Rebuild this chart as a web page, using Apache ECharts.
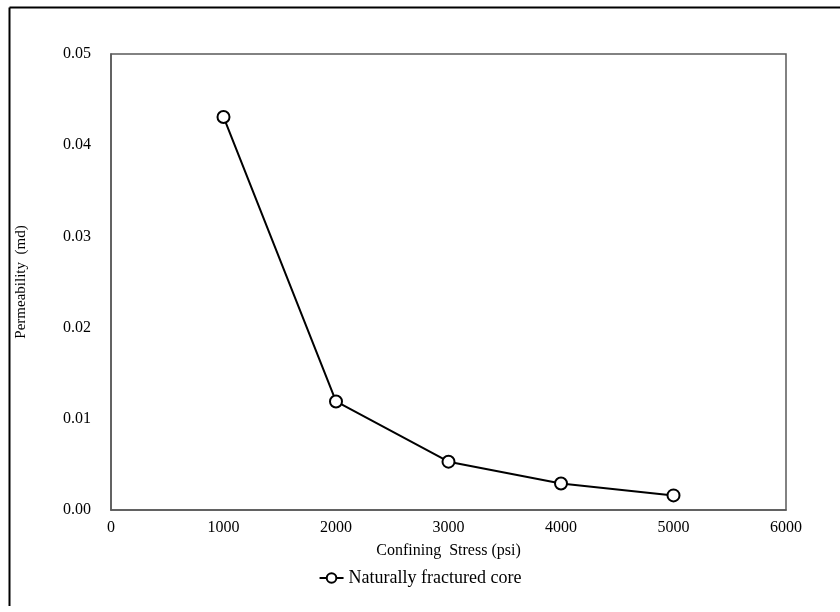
<!DOCTYPE html>
<html><head><meta charset="utf-8">
<script src="https://cdn.jsdelivr.net/npm/echarts@6/dist/echarts.min.js"></script>
<style>html,body{margin:0;padding:0;background:#fff}#c{width:840px;height:612px}</style>
</head><body><div id="c"></div>
<script>
const stress = [1000, 2000, 3000, 4000, 5000];
const permeability = [0.0431, 0.0119, 0.0053, 0.0029, 0.0016];
const seriesName = 'Naturally fractured core';
const xName = 'Confining  Stress (psi)';
const yName = 'Permeability  (md)';
const font = 'Liberation Serif';
const chart = echarts.init(document.getElementById('c'));
chart.setOption({
  animation: false,
  graphic: [
    {type: 'line', shape: {x1: 9.5, y1: 7.5, x2: 840, y2: 7.5}, style: {stroke: '#000', lineWidth: 2}},
    {type: 'line', shape: {x1: 9.5, y1: 7.5, x2: 9.5, y2: 606}, style: {stroke: '#000', lineWidth: 2}}
  ],
  grid: {left: 111, right: 54, top: 54, bottom: 102, show: true, borderColor: '#595959', borderWidth: 1.5, backgroundColor: 'transparent'},
  legend: {
    bottom: 20, left: 'center', itemWidth: 24, itemHeight: 12, itemGap: 2,
    textStyle: {fontFamily: font, fontSize: 18, color: '#000'},
    data: [seriesName]
  },
  xAxis: {
    type: 'value', min: 0, max: 6000, interval: 1000,
    name: xName, nameLocation: 'middle', nameGap: 33,
    nameTextStyle: {fontFamily: font, fontSize: 16, color: '#000'},
    axisLine: {lineStyle: {color: '#595959', width: 1.5}},
    axisTick: {show: false},
    axisLabel: {fontFamily: font, fontSize: 16, color: '#000', margin: 10, formatter: v => String(v)},
    splitLine: {show: false}
  },
  yAxis: {
    type: 'value', min: 0, max: 0.05, interval: 0.01,
    name: yName, nameLocation: 'middle', nameGap: 82,
    nameTextStyle: {fontFamily: font, fontSize: 15, color: '#000'},
    axisLine: {show: true, lineStyle: {color: '#595959', width: 1.5}},
    axisTick: {show: false},
    axisLabel: {fontFamily: font, fontSize: 16, color: '#000', margin: 20, formatter: v => v.toFixed(2)},
    splitLine: {show: false}
  },
  series: [{
    name: seriesName, type: 'line',
    data: stress.map((x, i) => [x, permeability[i]]),
    symbol: 'circle', symbolSize: 12,
    itemStyle: {color: '#fff', borderColor: '#000', borderWidth: 2},
    lineStyle: {color: '#000', width: 2}
  }]
});
</script></body></html>
